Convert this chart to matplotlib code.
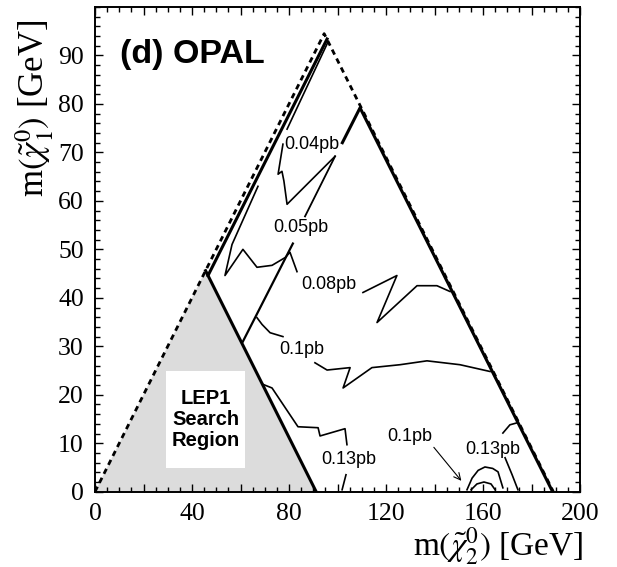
import numpy as np
import matplotlib
matplotlib.use('Agg')
import matplotlib.pyplot as plt
from matplotlib.ticker import FixedLocator, MultipleLocator
from matplotlib.patches import Rectangle

plt.rcParams['mathtext.fontset'] = 'stix'

# kinematic limit (dashed) and LEP1 region
limit_x = [0, 94.5, 189]
limit_y = [0, 94.5, 0]
lep1_x = [0, 45.6, 91.2]
lep1_y = [0, 45.6, 0]

# thick boundary lines
bound_left_x = [46.6, 95.7]
bound_left_y = [44.6, 93.4]
bound_right_x = [102.0, 109.3, 188.7]
bound_right_y = [72.0, 79.2, 0.0]

# straight dm=30 line, broken at the labels
dm30_lo_x = [61.0, 81.6]
dm30_lo_y = [31.0, 51.2]
dm30_mid_x = [86.6, 99.0]
dm30_mid_y = [56.8, 69.2]

# contours (thin)
c004a_x = [79.2, 96.1]
c004a_y = [74.8, 92.8]
c004b_x = [77.5, 75.5, 77.1, 77.9, 79.2, 99.0]
c004b_y = [71.7, 65.5, 66.1, 64.1, 59.3, 69.2]

c008a_x = [67.2, 56.5, 53.6, 61.0, 66.8, 73.0, 78.4, 80.4, 83.3]
c008a_y = [63.0, 51.0, 44.6, 50.0, 46.3, 46.7, 48.3, 49.4, 45.4]
c008b_x = [110.5, 124.5, 116.3, 132.8, 141.0, 146.4]
c008b_y = [41.1, 44.6, 34.9, 42.5, 42.5, 41.3]

c01a_x = [66.8, 68.9, 72.2, 77.5]
c01a_y = [35.9, 34.5, 32.8, 32.0]
c01b_x = [90.7, 95.7, 105.2, 102.3, 114.2, 125.8, 136.9, 150.5, 162.9]
c01b_y = [26.6, 25.1, 25.6, 21.4, 25.6, 26.2, 27.0, 26.2, 24.8]

c013a_x = [69.5, 73.0, 83.7, 92.0, 92.8, 103.1, 103.9]
c013a_y = [22.1, 21.4, 13.4, 13.2, 11.5, 13.0, 9.7]
c013b_x = [103.5, 101.9]
c013b_y = [3.5, 0.4]

c013r_arc_x = [168.2, 171.1, 174.0]
c013r_arc_y = [12.1, 13.8, 14.2]
c013r_low_x = [169.1, 172.0, 174.4]
c013r_low_y = [7.0, 3.5, 0.4]

outer_x = [153.4, 155.5, 158.0, 160.8, 164.0, 166.2, 168.2]
outer_y = [0.4, 2.8, 4.4, 5.1, 4.8, 4.1, 0.8]
inner_x = [155.1, 157.5, 160.4, 163.3, 165.0]
inner_y = [0.4, 1.6, 2.0, 1.6, 0.4]

# contour labels
lab_text = ['0.04pb', '0.05pb', '0.08pb', '0.1pb', '0.13pb', '0.13pb']
lab_x = [89.5, 84.9, 96.5, 85.4, 104.7, 164.1]
lab_y = [71.7, 54.5, 42.7, 29.3, 6.6, 8.8]

arrow_text = '0.1pb'
arrow_text_xy = (129.9, 11.3)
arrow_from = (139.0, 9.6)
arrow_to = (151.8, 1.8)

# LEP1 label box (x0, y0, w, h)
box = (29.3, 4.9, 32.6, 20.0)

fig = plt.figure(figsize=(6.17, 5.67), dpi=100)
ax = fig.add_axes([95/617, 1-491.7/567, 485/617, 484.7/567])

ax.fill(lep1_x, lep1_y, color='#dcdcdc', lw=0, zorder=1)
ax.plot(limit_x, limit_y, color='black', lw=2, ls=(0, (2.0, 1.6)), zorder=3)
ax.plot(lep1_x[1:], lep1_y[1:], color='black', lw=2.2, zorder=4)
ax.plot(bound_left_x, bound_left_y, color='black', lw=2.2, zorder=4)
ax.plot(bound_right_x, bound_right_y, color='black', lw=2.2, zorder=4)
ax.plot(dm30_lo_x, dm30_lo_y, color='black', lw=1.6, zorder=4)
ax.plot(dm30_mid_x, dm30_mid_y, color='black', lw=1.3, zorder=4)

thin = [(c004a_x, c004a_y), (c004b_x, c004b_y), (c008a_x, c008a_y), (c008b_x, c008b_y),
        (c01a_x, c01a_y), (c01b_x, c01b_y), (c013a_x, c013a_y), (c013b_x, c013b_y),
        (c013r_arc_x, c013r_arc_y), (c013r_low_x, c013r_low_y),
        (outer_x, outer_y), (inner_x, inner_y)]
for xs, ys in thin:
    ax.plot(xs, ys, color='black', lw=1.2, zorder=4)

for t, x, y in zip(lab_text, lab_x, lab_y):
    ax.text(x, y, t, fontsize=13, family='Liberation Sans', ha='center', va='center', zorder=5)

ax.text(*arrow_text_xy, arrow_text, fontsize=13, family='Liberation Sans', ha='center', va='center')
ax.annotate('', xy=arrow_to, xytext=arrow_from,
            arrowprops=dict(arrowstyle='->', lw=0.8, color='black', mutation_scale=12))

# LEP1 box
ax.add_patch(Rectangle(box[:2], box[2], box[3], fc='white', ec='none', zorder=5))
ax.text(box[0] + box[2]/2, box[1] + box[3]/2, 'LEP1\nSearch\nRegion', fontsize=14.5,
        family='Liberation Sans', weight='bold', ha='center', va='center',
        linespacing=1.15, zorder=6)

ax.text(10.5, 88.5, '(d) OPAL', fontsize=24.5, family='Liberation Sans', weight='bold',
        ha='left', va='baseline')

ax.set_xlim(0, 200)
ax.set_ylim(0, 100)
ax.xaxis.set_major_locator(MultipleLocator(20))
ax.xaxis.set_minor_locator(MultipleLocator(5))
ax.yaxis.set_major_locator(FixedLocator(list(range(0, 100, 10))))
ax.yaxis.set_minor_locator(MultipleLocator(2))
ax.set_xticklabels([str(int(v)) if v % 40 == 0 else '' for v in ax.get_xticks()])
ax.tick_params(which='both', direction='in', top=True, right=True, width=1.0,
               labelsize=18.5, labelfontfamily='Liberation Serif')
ax.tick_params(which='major', length=5.8, pad=8)
ax.tick_params(which='minor', length=3.6)
for s in ax.spines.values():
    s.set_linewidth(1.4)

fig.text(35/617, 1-20/567, r'm$(\tilde{\chi}^0_1)$ [GeV]', rotation=90, ha='center', va='top',
         fontsize=25, family='Liberation Serif')
fig.text(583/617, 1-555/567, r'm$(\tilde{\chi}^0_2)$ [GeV]', ha='right', va='baseline',
         fontsize=24, family='Liberation Serif')

fig.savefig('out.png', dpi=100)
